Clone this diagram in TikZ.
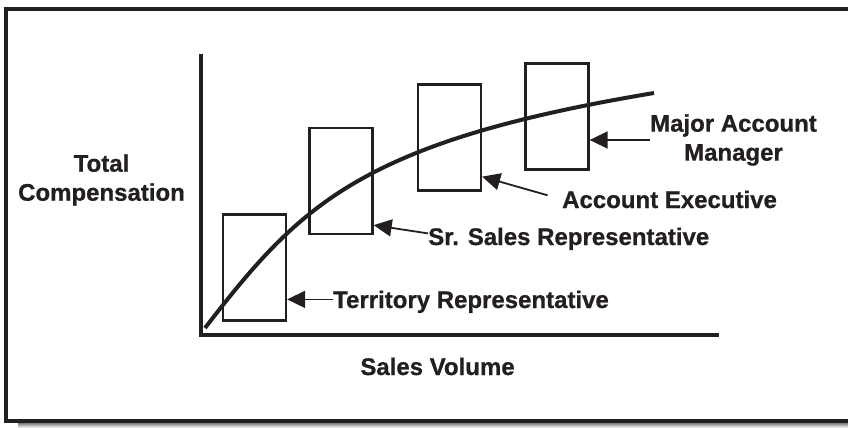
\documentclass[tikz,border=0pt]{standalone}
\usepackage{fontspec}
\setmainfont{Liberation Sans}[BoldFeatures={FakeBold=0.8}]
\usetikzlibrary{arrows.meta}
\definecolor{ink}{RGB}{35,31,32}
\definecolor{shade}{RGB}{212,212,212}

\begin{document}
\begin{tikzpicture}[x=1pt,y=-1pt,>={Triangle[length=18pt,width=17pt]},
		every node/.style={font=\bfseries\fontsize{24}{29}\selectfont,text=ink,inner sep=0pt},
		band/.style={draw=ink,line width=2.3pt,minimum width=63pt,minimum height=106pt},
		caption/.style={text height=17.2pt,text depth=0pt,anchor=base west},
		pointer/.style={->,draw=ink,line width=1.8pt}]

		\useasboundingbox (0,0) rectangle (848,428);
		\fill[shade] (18,423) rectangle (848,428);
		\draw[ink,line width=4pt] (5.5,9) rectangle (849.5,420.5);

		\draw[ink,line width=3.3pt] (201,54) |- (719,335);
		\draw[ink,line width=4pt] (205,328) .. controls (300,205) and (360,142) .. (654,93);

		\node[band] (B1) at (254.5,267.5) {};
		\node[band] (B2) at (341,181) {};
		\node[band] (B3) at (449.5,137.5) {};
		\node[band] (B4) at (557,116.5) {};

		\node[caption] (T1) at (333,308) {Territory Representative};
		\node[caption] (T2) at (428,245) {Sr. Sales Representative};
		\node[caption] (T3) at (562,208) {Account Executive};
		\node[align=center] (T4) at (733.5,140) {Major Account\\Manager};

		\node[align=center] (Y) at (101.5,180) {Total\\Compensation};
		\node[caption,anchor=base] (X) at (437.5,375) {Sales Volume};

		\draw[pointer] (T1.west) -- (B1.east |- T1.west);
		\draw[pointer] ([yshift=3pt]T2.west) -- ([yshift=10pt]B2.south east);
		\draw[pointer,shorten <=15pt] (T3.west) -- ([yshift=15pt]B3.south east);
		\draw[pointer] (T4.west) -- (B4.east |- T4.west);

	\end{tikzpicture}
\end{document}
